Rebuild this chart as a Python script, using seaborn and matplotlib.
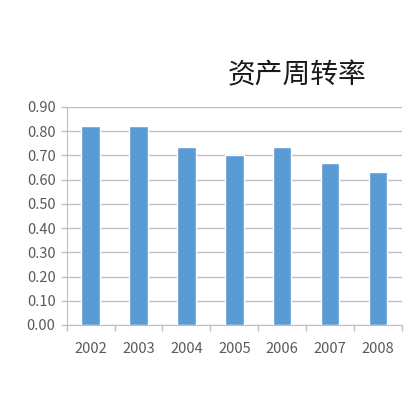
import matplotlib
matplotlib.use("Agg")
import matplotlib.pyplot as plt
import seaborn as sns
import pandas as pd
from matplotlib.ticker import MultipleLocator, FixedLocator

years = ["2002", "2003", "2004", "2005", "2006", "2007", "2008"]
turnover = [0.82, 0.82, 0.735, 0.70, 0.735, 0.67, 0.63]
title = "资产周转率"

sns.set_style("white")
plt.rcParams['font.family'] = ['Noto Sans CJK SC', 'DejaVu Sans']

df = pd.DataFrame({"year": years, "value": turnover})

fig = plt.figure(figsize=(4.14, 4.0), dpi=100)
ax = fig.add_axes([0.161, 0.1875, 0.81, 0.545])
sns.barplot(data=df, x="year", y="value", color="#5B9BD5", saturation=1,
            width=0.385, ax=ax, zorder=3)

ax.set_ylim(0, 0.9)
ax.set_xlim(-0.5, len(years) - 0.5)
ax.yaxis.set_major_locator(MultipleLocator(0.1))
ax.yaxis.set_major_formatter(matplotlib.ticker.FuncFormatter(lambda v, p: f"{v:.2f}"))
ax.grid(axis="y", color="#BFBFBF", linewidth=1.0, zorder=0)
ax.set_axisbelow(True)
ax.set_xlabel("")
ax.set_ylabel("")

for s in ["top", "right"]:
    ax.spines[s].set_visible(False)
ax.spines["left"].set_color("#BFBFBF")
ax.spines["bottom"].set_color("#BFBFBF")

ax.xaxis.set_minor_locator(FixedLocator([i - 0.5 for i in range(len(years) + 1)]))
ax.tick_params(axis="x", which="minor", length=4, color="#BFBFBF", width=1, direction="out", bottom=True)
ax.tick_params(axis="x", which="major", length=0, pad=12, labelsize=10.5, labelcolor="#595959")
ax.tick_params(axis="y", which="major", length=4, color="#BFBFBF", width=1, direction="out", left=True,
               pad=4, labelsize=10.5, labelcolor="#595959")

fig.text(0.718, 0.812, title, ha="center", va="center", fontsize=20, color="#1A1A1A")

fig.savefig("out.png", dpi=100)
